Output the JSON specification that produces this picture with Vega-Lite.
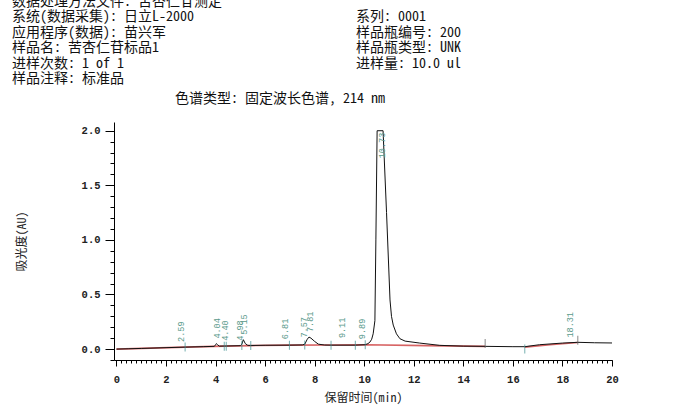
{
  "$schema": "https://vega.github.io/schema/vega-lite/v6.json",
  "background": "white",
  "padding": {"left": 12, "top": -5, "right": 10, "bottom": 5},
  "autosize": {"type": "pad"},
  "bounds": "flush",
  "spacing": 43,
  "config": {"view": {"stroke": null}},
  "datasets": {
    "header": [
      {"col": "L", "line": 0, "text": "数据处理方法文件: 苦杏仁苷测定"},
      {"col": "L", "line": 1, "text": "系统(数据采集): 日立L-2000"},
      {"col": "L", "line": 2, "text": "应用程序(数据): 苗兴军"},
      {"col": "L", "line": 3, "text": "样品名: 苦杏仁苷标品1"},
      {"col": "L", "line": 4, "text": "进样次数: 1 of 1"},
      {"col": "L", "line": 5, "text": "样品注释: 标准品"},
      {"col": "R", "line": 1, "text": "系列: 0001"},
      {"col": "R", "line": 2, "text": "样品瓶编号: 200"},
      {"col": "R", "line": 3, "text": "样品瓶类型: UNK"},
      {"col": "R", "line": 4, "text": "进样量: 10.0 ul"}
    ],
    "trace": [
      {"t": 0.0, "v": 0.0}, {"t": 0.5, "v": 0.003}, {"t": 1.0, "v": 0.006}, {"t": 2.0, "v": 0.013},
      {"t": 2.77, "v": 0.018}, {"t": 3.5, "v": 0.022}, {"t": 3.95, "v": 0.025}, {"t": 4.0, "v": 0.04},
      {"t": 4.03, "v": 0.05}, {"t": 4.08, "v": 0.04}, {"t": 4.15, "v": 0.027}, {"t": 4.4, "v": 0.028},
      {"t": 5.0, "v": 0.031}, {"t": 5.06, "v": 0.045}, {"t": 5.12, "v": 0.086}, {"t": 5.2, "v": 0.05},
      {"t": 5.3, "v": 0.034}, {"t": 5.42, "v": 0.033}, {"t": 6.0, "v": 0.035}, {"t": 6.98, "v": 0.036},
      {"t": 7.5, "v": 0.038}, {"t": 7.6, "v": 0.045}, {"t": 7.7, "v": 0.09}, {"t": 7.77, "v": 0.11},
      {"t": 7.85, "v": 0.1}, {"t": 8.0, "v": 0.07}, {"t": 8.15, "v": 0.045}, {"t": 8.4, "v": 0.037},
      {"t": 8.66, "v": 0.036}, {"t": 9.64, "v": 0.036}, {"t": 10.04, "v": 0.04}, {"t": 10.15, "v": 0.05},
      {"t": 10.23, "v": 0.064}, {"t": 10.3, "v": 0.09}, {"t": 10.36, "v": 0.14}, {"t": 10.43, "v": 0.26},
      {"t": 10.47, "v": 1.0}, {"t": 10.52, "v": 2.0}, {"t": 10.76, "v": 2.0}, {"t": 10.9, "v": 1.25},
      {"t": 11.04, "v": 0.45}, {"t": 11.1, "v": 0.3}, {"t": 11.17, "v": 0.22}, {"t": 11.3, "v": 0.14},
      {"t": 11.44, "v": 0.095}, {"t": 11.65, "v": 0.073}, {"t": 12.24, "v": 0.055}, {"t": 13.05, "v": 0.034},
      {"t": 14.0, "v": 0.027}, {"t": 14.88, "v": 0.025}, {"t": 16.0, "v": 0.022}, {"t": 16.48, "v": 0.022},
      {"t": 17.08, "v": 0.04}, {"t": 18.0, "v": 0.055}, {"t": 18.62, "v": 0.062}, {"t": 19.3, "v": 0.058},
      {"t": 20.0, "v": 0.056}
    ],
    "baseline": [
      {"seg": "A", "t": 0.0, "v": 0.0}, {"seg": "A", "t": 2.77, "v": 0.018}, {"seg": "A", "t": 4.35, "v": 0.027},
      {"seg": "A", "t": 5.42, "v": 0.032}, {"seg": "A", "t": 6.98, "v": 0.036}, {"seg": "A", "t": 8.66, "v": 0.037},
      {"seg": "A", "t": 10.04, "v": 0.04}, {"seg": "A", "t": 12.5, "v": 0.032}, {"seg": "A", "t": 14.88, "v": 0.025},
      {"seg": "B", "t": 16.48, "v": 0.018}, {"seg": "B", "t": 17.5, "v": 0.04}, {"seg": "B", "t": 18.62, "v": 0.06}
    ],
    "markers": [
      {"t": 2.77, "v": 0.018, "kind": "event"}, {"t": 4.35, "v": 0.027, "kind": "event"},
      {"t": 4.43, "v": 0.027, "kind": "event"}, {"t": 5.06, "v": 0.032, "kind": "event"},
      {"t": 5.42, "v": 0.033, "kind": "event"}, {"t": 6.98, "v": 0.036, "kind": "event"},
      {"t": 7.6, "v": 0.038, "kind": "event"}, {"t": 8.66, "v": 0.036, "kind": "event"},
      {"t": 9.64, "v": 0.036, "kind": "event"}, {"t": 10.04, "v": 0.04, "kind": "event"},
      {"t": 14.88, "v": 0.05, "kind": "end"}, {"t": 16.48, "v": 0.0, "kind": "event"},
      {"t": 18.62, "v": 0.08, "kind": "end"}
    ],
    "peaks": [
      {"rt": 2.59, "label": "2.59", "h": 0.02, "anchor": "apex"},
      {"rt": 4.04, "label": "4.04", "h": 0.05, "anchor": "apex"},
      {"rt": 4.4, "label": "4.40", "h": 0.03, "anchor": "apex"},
      {"rt": 4.98, "label": "4.98", "h": 0.03, "anchor": "apex"},
      {"rt": 5.15, "label": "5.15", "h": 0.086, "anchor": "apex"},
      {"rt": 6.81, "label": "6.81", "h": 0.045, "anchor": "apex"},
      {"rt": 7.57, "label": "7.57", "h": 0.06, "anchor": "apex"},
      {"rt": 7.81, "label": "7.81", "h": 0.11, "anchor": "apex"},
      {"rt": 9.11, "label": "9.11", "h": 0.055, "anchor": "apex"},
      {"rt": 9.89, "label": "9.89", "h": 0.045, "anchor": "apex"},
      {"rt": 10.73, "label": "10.73", "h": 2.0, "anchor": "top"},
      {"rt": 18.31, "label": "18.31", "h": 0.06, "anchor": "apex"}
    ]
  },
  "vconcat": [
    {
      "width": 344,
      "height": 77,
      "data": {"name": "header"},
      "mark": {"type": "text", "align": "left", "baseline": "middle", "dx": -102, "font": "Noto Sans Mono CJK SC, Noto Sans CJK SC", "fontSize": 14, "color": "#111"},
      "encoding": {
        "x": {"field": "col", "type": "nominal", "scale": {"type": "point", "padding": 0, "domain": ["L", "R"]}, "axis": null},
        "y": {"field": "line", "type": "ordinal", "scale": {"type": "point", "padding": 0, "domain": [0, 1, 2, 3, 4, 5]}, "axis": null},
        "text": {"field": "text"}
      }
    },
    {
      "width": 498,
      "height": 238,
      "title": {"text": "色谱类型: 固定波长色谱, 214 nm", "anchor": "start", "frame": "group", "dx": 61, "offset": 2, "baseline": "bottom", "font": "Noto Sans Mono CJK SC, Noto Sans CJK SC", "fontSize": 14, "fontWeight": "normal", "color": "#111"},
      "resolve": {"axis": {"x": "independent", "y": "independent"}},
      "layer": [
        {
          "data": {"name": "baseline"},
          "mark": {"type": "line", "color": "#d04848", "strokeWidth": 1.6, "opacity": 0.85},
          "encoding": {
            "x": {"field": "t", "type": "quantitative", "scale": {"domain": [-0.1, 20], "nice": false, "zero": false},
              "axis": {"orient": "bottom", "values": [0, 2, 4, 6, 8, 10, 12, 14, 16, 18, 20], "format": "d", "grid": false, "tickSize": 6, "tickColor": "#000", "domainColor": "#000", "labelPadding": 8, "labelFont": "Liberation Mono", "labelFontSize": 10.5, "labelFontWeight": "bold", "labelColor": "#222", "labelFlush": false, "title": "保留时间(min)", "titleFont": "Noto Sans Mono CJK SC, Noto Sans CJK SC", "titleFontSize": 12, "titleFontWeight": "normal", "titleColor": "#222", "titlePadding": 8}},
            "y": {"field": "v", "type": "quantitative", "scale": {"domain": [-0.1, 2.08], "nice": false, "zero": false},
              "axis": {"orient": "left", "values": [0, 0.5, 1, 1.5, 2], "format": ".1f", "grid": false, "tickSize": 9, "tickColor": "#000", "domainColor": "#000", "labelPadding": 5, "labelFont": "Liberation Mono", "labelFontSize": 10.5, "labelFontWeight": "bold", "labelColor": "#222", "title": "吸光度(AU)", "titleFont": "Noto Sans Mono CJK SC, Noto Sans CJK SC", "titleFontSize": 12, "titleFontWeight": "normal", "titleColor": "#222", "titlePadding": 53}},
            "detail": {"field": "seg"}
          }
        },
        {
          "data": {"name": "trace"},
          "mark": {"type": "line", "color": "#111", "strokeWidth": 1},
          "encoding": {
            "x": {"field": "t", "type": "quantitative", "scale": {"domain": [-0.1, 20], "nice": false, "zero": false},
              "axis": {"orient": "bottom", "values": [0, 0.2, 0.4, 0.6, 0.8, 1, 1.2, 1.4, 1.6, 1.8, 2, 2.2, 2.4, 2.6, 2.8, 3, 3.2, 3.4, 3.6, 3.8, 4, 4.2, 4.4, 4.6, 4.8, 5, 5.2, 5.4, 5.6, 5.8, 6, 6.2, 6.4, 6.6, 6.8, 7, 7.2, 7.4, 7.6, 7.8, 8, 8.2, 8.4, 8.6, 8.8, 9, 9.2, 9.4, 9.6, 9.8, 10, 10.2, 10.4, 10.6, 10.8, 11, 11.2, 11.4, 11.6, 11.8, 12, 12.2, 12.4, 12.6, 12.8, 13, 13.2, 13.4, 13.6, 13.8, 14, 14.2, 14.4, 14.6, 14.8, 15, 15.2, 15.4, 15.6, 15.8, 16, 16.2, 16.4, 16.6, 16.8, 17, 17.2, 17.4, 17.6, 17.8, 18, 18.2, 18.4, 18.6, 18.8, 19, 19.2, 19.4, 19.6, 19.8, 20], "labels": false, "domain": false, "grid": false, "tickSize": 3, "tickColor": "#000", "title": null}},
            "y": {"field": "v", "type": "quantitative", "scale": {"domain": [-0.1, 2.08], "nice": false, "zero": false},
              "axis": {"orient": "left", "values": [-0.1, 0, 0.1, 0.2, 0.3, 0.4, 0.5, 0.6, 0.7, 0.8, 0.9, 1, 1.1, 1.2, 1.3, 1.4, 1.5, 1.6, 1.7, 1.8, 1.9, 2], "labels": false, "domain": false, "grid": false, "tickSize": 4, "tickColor": "#000", "title": null}}
          }
        },
        {
          "data": {"name": "markers"},
          "mark": {"type": "tick", "orient": "vertical", "size": 9, "thickness": 1},
          "encoding": {
            "x": {"field": "t", "type": "quantitative", "axis": null},
            "y": {"field": "v", "type": "quantitative", "axis": null},
            "color": {"field": "kind", "type": "nominal", "scale": {"domain": ["event", "end"], "range": ["#3b8f8f", "#555555"]}, "legend": null}
          }
        },
        {
          "data": {"name": "peaks"},
          "transform": [{"filter": "datum.anchor === 'apex'"}],
          "mark": {"type": "text", "angle": 270, "align": "left", "baseline": "middle", "dx": 5, "font": "Liberation Mono", "fontSize": 8.5, "color": "#5b9a8c"},
          "encoding": {
            "x": {"field": "rt", "type": "quantitative", "axis": null},
            "y": {"field": "h", "type": "quantitative", "axis": null},
            "text": {"field": "label"}
          }
        },
        {
          "data": {"name": "peaks"},
          "transform": [{"filter": "datum.anchor === 'top'"}],
          "mark": {"type": "text", "angle": 270, "align": "right", "baseline": "middle", "dx": -2, "font": "Liberation Mono", "fontSize": 8.5, "color": "#5b9a8c"},
          "encoding": {
            "x": {"field": "rt", "type": "quantitative", "axis": null},
            "y": {"field": "h", "type": "quantitative", "axis": null},
            "text": {"field": "label"}
          }
        }
      ]
    }
  ]
}
